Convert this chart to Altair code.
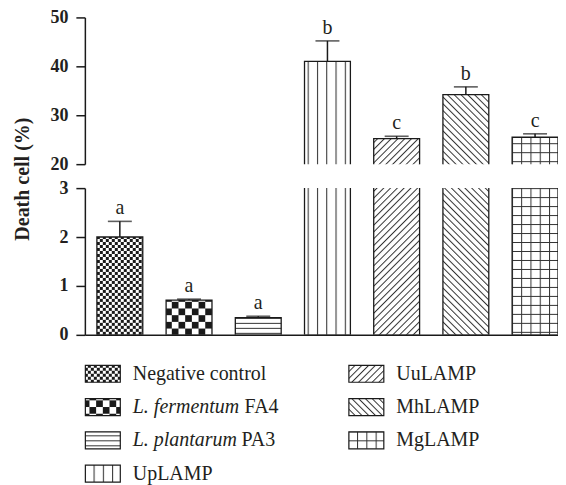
import altair as alt
import pandas as pd
import altair.utils.html as _alt_html

# ---------------- data ----------------
groups = ["Negative control", "L. fermentum FA4", "L. plantarum PA3",
          "UpLAMP", "UuLAMP", "MhLAMP", "MgLAMP"]
values = [2.0, 0.71, 0.35, 41.0, 25.2, 34.2, 25.5]
errors = [0.32, 0.02, 0.03, 4.2, 0.5, 1.6, 0.7]
letters = ["a", "a", "a", "b", "c", "b", "c"]
legend_italic = ["", "L. fermentum", "L. plantarum", "", "", "", ""]
legend_plain = ["Negative control", "FA4", "PA3", "UpLAMP", "UuLAMP", "MhLAMP", "MgLAMP"]
upper_ticks = [20, 30, 40, 50]
lower_ticks = [0, 1, 2, 3]

# ---------------- fill patterns (SVG defs injected in the page) ----------------
pattern_ids = ["pNC", "pFA4", "pPA3", "pUp", "pUu", "pMh", "pMg"]
fills = [f"url(#{p})" for p in pattern_ids]
INK = "#1a1a1a"
PATTERN_DEFS = f"""
<svg width="0" height="0" style="position:absolute;left:0;top:0" aria-hidden="true">
<defs>
<pattern id="pNC" patternUnits="userSpaceOnUse" width="6" height="6">
  <rect width="6" height="6" fill="white"/>
  <rect width="3" height="3" fill="{INK}"/>
  <rect x="3" y="3" width="3" height="3" fill="{INK}"/>
</pattern>
<pattern id="pFA4" patternUnits="userSpaceOnUse" width="13.4" height="13.4">
  <rect width="13.4" height="13.4" fill="white"/>
  <rect width="6.7" height="6.7" fill="{INK}"/>
  <rect x="6.7" y="6.7" width="6.7" height="6.7" fill="{INK}"/>
</pattern>
<pattern id="pPA3" patternUnits="userSpaceOnUse" width="10" height="5">
  <rect width="10" height="5" fill="white"/>
  <line x1="0" y1="0.5" x2="10" y2="0.5" stroke="#333" stroke-width="1"/>
</pattern>
<pattern id="pUp" patternUnits="userSpaceOnUse" width="9.3" height="10">
  <rect width="9.3" height="10" fill="white"/>
  <line x1="0.5" y1="0" x2="0.5" y2="10" stroke="#333" stroke-width="1.1"/>
</pattern>
<pattern id="pUu" patternUnits="userSpaceOnUse" width="4.8" height="4.8" patternTransform="rotate(45)">
  <rect width="4.8" height="4.8" fill="white"/>
  <line x1="0.5" y1="0" x2="0.5" y2="4.8" stroke="#333" stroke-width="1"/>
</pattern>
<pattern id="pMh" patternUnits="userSpaceOnUse" width="4.8" height="4.8" patternTransform="rotate(-45)">
  <rect width="4.8" height="4.8" fill="white"/>
  <line x1="0.5" y1="0" x2="0.5" y2="4.8" stroke="#333" stroke-width="1"/>
</pattern>
<pattern id="pMg" patternUnits="userSpaceOnUse" width="9.3" height="9">
  <rect width="9.3" height="9" fill="white"/>
  <line x1="0.5" y1="0" x2="0.5" y2="9" stroke="#333" stroke-width="1"/>
  <line x1="0" y1="0.5" x2="9.3" y2="0.5" stroke="#333" stroke-width="1"/>
</pattern>
</defs>
</svg>
"""


def _patch_template(tpl):
    orig = tpl.render

    def render(*args, **kwargs):
        html = orig(*args, **kwargs)
        if "<body>" in html:
            return html.replace("<body>", "<body>\n" + PATTERN_DEFS, 1)
        return PATTERN_DEFS + html

    tpl.render = render


for _t in list(getattr(_alt_html, "TEMPLATES", {}).values()):
    try:
        _patch_template(_t)
    except Exception:
        pass

# ---------------- chart ----------------
FONT = "Liberation Serif"
TXT = "#231f20"

df = pd.DataFrame({"group": groups, "value": values, "err": errors, "letter": letters})
fill_scale = alt.Scale(domain=groups, range=fills)


def x_enc(axis):
    return alt.X("group:N", sort=groups,
                 scale=alt.Scale(paddingInner=0.337, paddingOuter=0.087, align=1),
                 axis=axis)


def y_axis(ticks, title=None):
    kw = dict(values=ticks, grid=False, domainColor=INK, domainWidth=1.5,
              tickColor=INK, tickWidth=1.5, tickSize=9,
              labelFont=FONT, labelFontWeight="bold", labelFontSize=18,
              labelColor=TXT, labelPadding=8)
    if title:
        kw.update(title=title, titleFont=FONT, titleFontWeight="bold",
                  titleFontSize=20, titleColor=TXT, titleAngle=270,
                  titleX=-62, titleY=-9.5, titleAlign="center",
                  titleBaseline="middle")
    else:
        kw.update(title=None)
    return alt.Axis(**kw)


def panel(lo, hi, ticks, height, upper):
    ys = alt.Scale(domain=[lo, hi], zero=False, nice=False)
    yax = y_axis(ticks, None if upper else "Death cell (%)")
    xaxis = None if upper else alt.Axis(labels=False, ticks=False, title=None,
                                         domainColor=INK, domainWidth=1.5, grid=False)
    base = alt.Chart(df).transform_calculate(top="datum.value + datum.err")
    bars = base.mark_bar(stroke=INK, strokeWidth=1.3, clip=True).encode(
        x=x_enc(xaxis),
        y=alt.Y("value:Q", scale=ys, axis=yax),
        y2=alt.datum(0),
        fill=alt.Fill("group:N", scale=fill_scale, legend=None),
    )
    cond = "datum.value > 3" if upper else "datum.value <= 3"
    ann = base.transform_filter(cond)
    rule = ann.mark_rule(strokeWidth=1.5, color=INK).encode(
        x=x_enc(xaxis), y=alt.Y("value:Q", scale=ys, axis=yax), y2="top:Q")
    cap = ann.mark_tick(size=24, thickness=1.6, color=INK).encode(
        x=x_enc(xaxis), y=alt.Y("top:Q", scale=ys, axis=yax))
    lab = ann.mark_text(baseline="alphabetic", dy=-7, font=FONT, fontSize=20,
                        color=TXT).encode(
        x=x_enc(xaxis), y=alt.Y("top:Q", scale=ys, axis=yax), text="letter:N")
    return alt.layer(bars, rule, cap, lab).properties(width=474, height=height)


upper = panel(20, 50, upper_ticks, 147, True)
lower = panel(0, 3, lower_ticks, 147, False)

# ---------------- legend panel ----------------
leg = pd.DataFrame({
    "group": groups,
    "italic": legend_italic,
    "plain": legend_plain,
    "col": [i // 4 for i in range(len(groups))],
    "row": [i % 4 for i in range(len(groups))],
})
lx = alt.X("col:O", scale=alt.Scale(type="point", range=[18, 282], padding=0), axis=None)
ly = alt.Y("row:O", scale=alt.Scale(type="point", padding=0.45), axis=None)
lbase = alt.Chart(leg)
sym = lbase.mark_point(shape="M-1,-0.486H1V0.486H-1Z", size=1225, filled=True,
                       opacity=1, stroke=INK, strokeWidth=1.2).encode(
    x=lx, y=ly, fill=alt.Fill("group:N", scale=fill_scale, legend=None))
tstyle = dict(align="left", baseline="middle", font=FONT, fontSize=20, color=TXT)
plain_only = lbase.transform_filter("datum.italic == ''").mark_text(dx=30, **tstyle).encode(
    x=lx, y=ly, text="plain:N")
ital = lbase.transform_filter("datum.italic != ''").mark_text(
    dx=30, fontStyle="italic", **tstyle).encode(x=lx, y=ly, text="italic:N")
suf1 = lbase.transform_filter(alt.datum.group == groups[1]).mark_text(dx=142, **tstyle).encode(
    x=lx, y=ly, text="plain:N")
suf2 = lbase.transform_filter(alt.datum.group == groups[2]).mark_text(dx=139, **tstyle).encode(
    x=lx, y=ly, text="plain:N")
legend = alt.layer(sym, plain_only, ital, suf1, suf2).properties(width=474, height=130)

chart = alt.vconcat(upper, lower, legend, spacing=24, bounds="flush").resolve_scale(
    x="independent", y="independent"
).properties(
    padding={"left": 4, "top": 0, "right": 0, "bottom": 0}
).configure_view(stroke=None)

chart.save("out.html", embed_options={"renderer": "svg", "actions": False})
